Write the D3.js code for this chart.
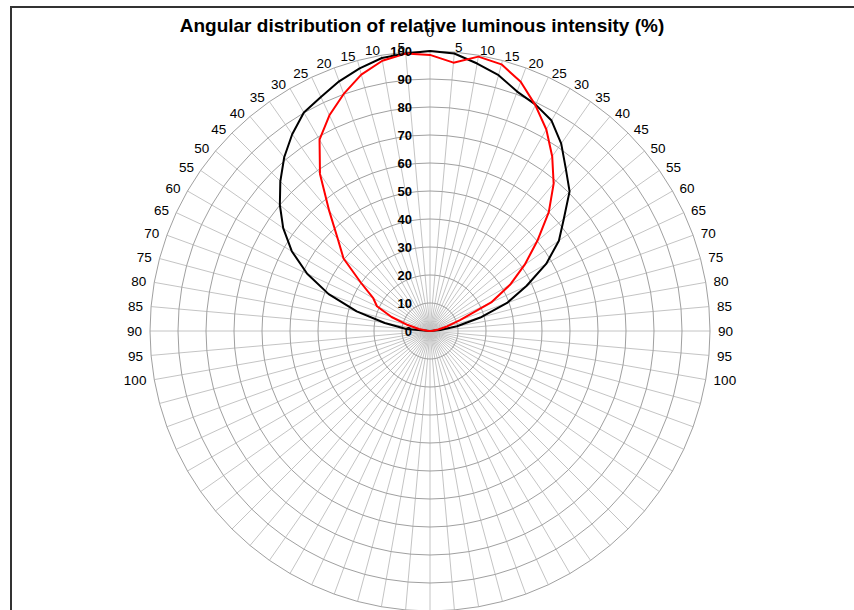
<!DOCTYPE html>
<html>
<head>
<meta charset="utf-8">
<script src="https://cdn.jsdelivr.net/npm/d3@7"></script>
<style>
  body { margin: 0; background: #fff; }
  svg { display: block; font-family: "Liberation Sans", Arial, sans-serif; }
</style>
</head>
<body>
<svg id="paper"></svg>
<script>
// category angles (degrees), 72 spokes round the circle
const categories = d3.range(0, 360, 5);
// label shown for each category (blank on the lower back half)
const categoryLabels = categories.map((a) => a <= 100 ? String(a) : (a >= 260 ? String(360 - a) : ""));
const radialTicks = [0, 10, 20, 30, 40, 50, 60, 70, 80, 90, 100];

// measured angles for the two series, -90 .. 90
const angles = d3.range(-90, 91, 5);
const blackValues = [0, 8.5, 16.4, 27.1, 38.5, 48.4, 57, 64, 70, 75.6, 81, 85.8, 90.1, 92.2, 94.9, 97.1, 99, 99.5,
  100, 99.5, 97, 94.6, 91, 89.2, 86.8, 81.7, 75.5, 70.5, 62.4, 56.2, 47.9, 38, 29.3, 18.6, 9.8, 3.7, 0];
const redValues = [0, 1, 4, 8.2, 14.6, 20.9, 23.4, 30.2, 40.3, 46.6, 56, 68.5, 78.9, 85, 90.1, 94.8, 98, 99.5,
  98.6, 96.2, 99.5, 98.6, 94.7, 89, 83.1, 76.1, 68.7, 60, 50, 41.3, 33, 24.1, 11.4, 6.3, 3, 1, 0];

const width = 854, height = 610;
const cx = 430, cy = 331;

const svg = d3.select("#paper")
  .attr("width", width)
  .attr("height", height);

const r = d3.scaleLinear().domain([0, 100]).range([0, 280]);
const ang = d3.scaleLinear().domain([0, 360]).range([0, 2 * Math.PI]);

// chart frame
svg.append("rect")
  .attr("x", 11).attr("y", 7)
  .attr("width", 900).attr("height", 700)
  .attr("fill", "#fff")
  .attr("stroke", "#333")
  .attr("stroke-width", 2);

// title
svg.append("text")
  .attr("x", 422).attr("y", 32)
  .attr("text-anchor", "middle")
  .attr("font-size", 19)
  .attr("font-weight", "bold")
  .text("Angular distribution of relative luminous intensity (%)");

const plot = svg.append("g").attr("transform", `translate(${cx},${cy})`);

// spokes
plot.append("g").attr("class", "spokes")
  .selectAll("line")
  .data(categories)
  .enter()
  .append("line")
  .attr("x1", 0).attr("y1", 0)
  .attr("x2", (a) => r(100) * Math.sin(ang(a)))
  .attr("y2", (a) => -r(100) * Math.cos(ang(a)))
  .attr("stroke", "#c4c4c4")
  .attr("stroke-width", 1);

// rings (polygons through each spoke, as in the radar chart)
const ring = d3.lineRadial()
  .angle((a) => ang(a))
  .curve(d3.curveLinearClosed);

plot.append("g").attr("class", "rings")
  .selectAll("path")
  .data(radialTicks.slice(1))
  .enter()
  .append("path")
  .attr("d", (t) => ring.radius(r(t))(categories))
  .attr("fill", "none")
  .attr("stroke", "#a0a0a0")
  .attr("stroke-width", 1);

// series
const line = d3.lineRadial()
  .angle((d) => ang(d[0]))
  .radius((d) => r(d[1]));

const series = [
  { values: blackValues, color: "#000" },
  { values: redValues, color: "#ff0000" },
];

plot.append("g").attr("class", "series")
  .selectAll("path")
  .data(series)
  .enter()
  .append("path")
  .attr("d", (s) => line(angles.map((a, i) => [a, s.values[i]])))
  .attr("fill", "none")
  .attr("stroke", (s) => s.color)
  .attr("stroke-width", 2)
  .attr("stroke-linejoin", "round");

// radial value labels
plot.append("g").attr("class", "axis-values")
  .selectAll("text")
  .data(radialTicks)
  .enter()
  .append("text")
  .attr("x", -18)
  .attr("y", (t) => -r(t))
  .attr("dy", "0.36em")
  .attr("text-anchor", "end")
  .attr("font-size", 13)
  .attr("font-weight", "bold")
  .text((t) => t);

// category labels
plot.append("g").attr("class", "axis-categories")
  .selectAll("text")
  .data(categories.filter((a, i) => categoryLabels[i] !== ""))
  .enter()
  .append("text")
  .attr("x", (a) => 288 * Math.sin(ang(a)))
  .attr("y", (a) => a === 0 ? -294 : -285 * Math.cos(ang(a)))
  .attr("dy", (a) => a === 0 ? "0" : "0.36em")
  .attr("text-anchor", (a) => a === 0 ? "middle" : (a < 180 ? "start" : "end"))
  .attr("font-size", 13.5)
  .text((a) => categoryLabels[categories.indexOf(a)]);
</script>
</body>
</html>
